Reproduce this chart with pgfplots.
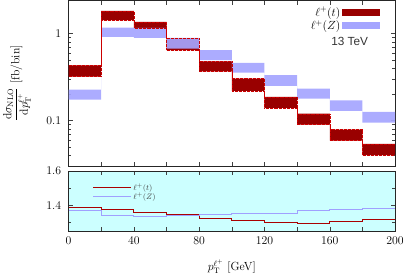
\documentclass[border=0pt]{standalone}
\usepackage{pgfplots}
\pgfplotsset{compat=1.18}
\usepackage{pgfplotstable}
\usepgfplotslibrary{fillbetween}
\usepackage{fontspec}
\newfontfamily\arialf{Liberation Sans}
\definecolor{bandred}{RGB}{153,0,0}
\definecolor{bandblue}{RGB}{165,165,255}
\definecolor{linered}{RGB}{170,0,0}
\definecolor{lineblue}{RGB}{160,160,255}
\definecolor{ratiobg}{RGB}{204,255,255}

\pgfplotstableread{
x lo hi
0 0.32 0.43
20 1.42 1.82
40 1.16 1.36
60 0.643 0.876
80 0.368 0.48
100 0.219 0.304
120 0.14 0.187
140 0.09 0.12
160 0.059 0.079
180 0.040 0.054
200 0.040 0.054
}\redband
\pgfplotstableread{
x lo hi
0 0.174 0.227
20 0.916 1.17
40 0.89 1.16
60 0.67 0.89
80 0.494 0.643
100 0.356 0.46
120 0.25 0.332
140 0.179 0.233
160 0.129 0.171
180 0.095 0.126
200 0.095 0.126
}\blueband
\pgfplotstableread{
x y
0 1.389
20 1.375
40 1.360
60 1.349
80 1.325
100 1.311
120 1.300
140 1.295
160 1.307
180 1.317
200 1.317
}\redratio
\pgfplotstableread{
x y
0 1.369
20 1.343
40 1.337
60 1.343
80 1.349
100 1.353
120 1.353
140 1.369
160 1.375
180 1.383
200 1.383
}\blueratio

\begin{document}
\begin{tikzpicture}[font=\fontsize{12}{14}\selectfont]
\begin{axis}[
  name=top, scale only axis, width=331bp, height=168bp,
  xmin=0, xmax=200, ymode=log, ymin=0.03, ymax=2.4,
  xtick={0,20,...,200}, xticklabels={},
  log ticks with fixed point,
  yticklabel style={xshift=-4bp},
  ylabel={$\displaystyle\frac{\mathrm{d}\sigma_{\mathrm{NLO}}}{\mathrm{d}p_{\mathrm{T}}^{\ell^+}}$ [fb/bin]},
  ylabel style={yshift=9bp},
  tick style={black!75, thin},
  axis line style={black!85, line width=0.8pt},
  legend style={draw=none, fill=none, at={(0.963,0.985)}, anchor=north east, row sep=-1pt, font=\fontsize{12}{13}\selectfont},
  legend plot pos=right, legend cell align=right,
  legend image code/.code={\fill[#1] (0bp,-3.5bp) rectangle (38bp,3.5bp);},
]
\addlegendimage{fill=bandred, draw=none}
\addlegendentry{$\ell^+(t)$}
\addlegendimage{fill=bandblue, draw=none}
\addlegendentry{$\ell^+(Z)$}

\addplot[const plot, draw=none, name path=rlo, forget plot] table[x=x,y=lo]{\redband};
\addplot[const plot, draw=none, name path=rhi, forget plot] table[x=x,y=hi]{\redband};
\addplot[fill=bandred, draw=none, forget plot] fill between[of=rhi and rlo];
\addplot[const plot, draw=none, name path=blo, forget plot] table[x=x,y=lo]{\blueband};
\addplot[const plot, draw=none, name path=bhi, forget plot] table[x=x,y=hi]{\blueband};
\addplot[fill=bandblue, draw=none, fill opacity=0.92, forget plot] fill between[of=bhi and blo];
\addplot[const plot, densely dotted, red!80!black, line width=0.35pt, forget plot] table[x=x,y=lo]{\redband};
\addplot[const plot, densely dotted, red!80!black, line width=0.35pt, forget plot] table[x=x,y=hi]{\redband};
\node[font=\arialf\fontsize{12}{14}\selectfont, text=black!80] at (rel axis cs:0.861,0.752) {13 TeV};
\end{axis}

\begin{axis}[
  at={(top.south west)}, yshift=-5bp, anchor=north west,
  scale only axis, width=331bp, height=61bp,
  xmin=0, xmax=200, ymin=1.25, ymax=1.6,
  xtick={0,20,...,200}, xticklabels={0,,40,,80,,120,,160,,200},
  ytick={1.4,1.6}, minor ytick={1.3,1.5},
  yticklabel style={xshift=-4bp, /pgf/number format/fixed, /pgf/number format/precision=1, /pgf/number format/fixed zerofill},
  xticklabel style={yshift=-2bp},
  tick style={black!75, thin},
  axis line style={black!85, line width=0.8pt},
  axis background/.style={fill=ratiobg},
  xlabel={$p_{\mathrm{T}}^{\ell^+}$ [GeV]},
  xlabel style={yshift=-8bp},
  legend style={draw=none, fill=none, at={(0.065,0.86)}, anchor=north west, row sep=-3pt, font=\fontsize{8}{9}\selectfont, text=black!75},
  legend cell align=left,
  legend image code/.code={\draw[#1] (0bp,0bp) -- (38bp,0bp);},
]
\addlegendimage{draw=linered, line width=1.1pt}
\addlegendentry{$\ell^+(t)$}
\addlegendimage{draw=lineblue, line width=1.1pt}
\addlegendentry{$\ell^+(Z)$}
\addplot[const plot, draw=linered, line width=1.1pt, forget plot] table[x=x,y=y]{\redratio};
\addplot[const plot, draw=lineblue, line width=1.1pt, forget plot] table[x=x,y=y]{\blueratio};
\end{axis}
\end{tikzpicture}
\end{document}
